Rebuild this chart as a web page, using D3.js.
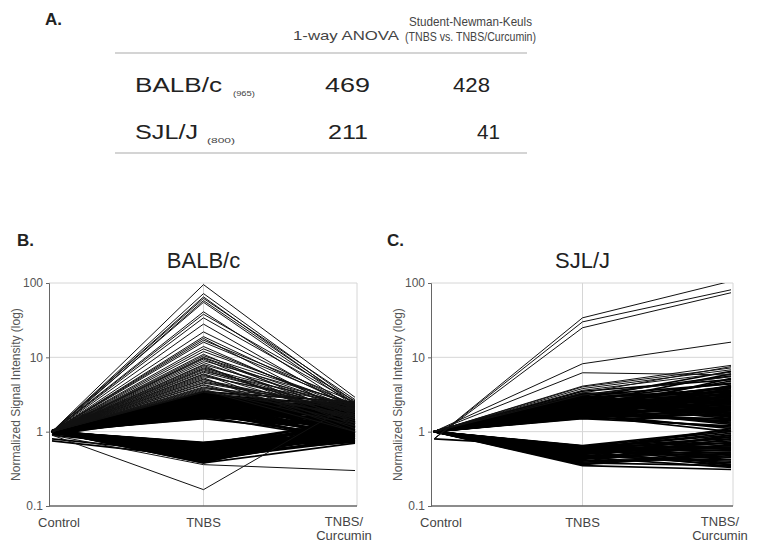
<!DOCTYPE html>
<html>
<head>
<meta charset="utf-8">
<script src="https://cdn.jsdelivr.net/npm/d3@7"></script>
<style>
  body { margin: 0; background: #fff; }
  svg { font-family: "Liberation Sans", Arial, sans-serif; }
</style>
</head>
<body>
<div id="vis"></div>
<script>
// table (panel A)
const tableCols = ['1-way ANOVA', ['Student-Newman-Keuls', '(TNBS vs. TNBS/Curcumin)']];
const strains = ['BALB/c', 'SJL/J'];
const strainN = ['(965)', '(800)'];
const anovaCounts = [469, 211];
const snkCounts = [428, 41];

// line plots: each gene = [Control, TNBS, TNBS/Curcumin]
const groups = ['Control', 'TNBS', 'TNBS/Curcumin'];
const yTicks = [0.1, 1, 10, 100];

const balbOutliers = [
  [1, 95, 2.9], [1, 72, 2.5], [1, 65, 2.3], [0.95, 58, 2.4], [1, 55, 2.2], [1, 41, 2.0],
  [1, 34, 2.4], [1, 28, 1.9], [1, 19, 2.1], [1, 18, 1.6], [1, 16, 2.3], [1, 14, 1.8],
  [1, 12, 2.2], [1, 11, 1.5], [1, 10, 2.0], [1, 9.5, 1.3], [1, 9, 2.4], [1, 8.5, 1.7],
  [1, 7.8, 1.2], [1, 7.2, 2.1], [1, 6.8, 1.6], [1, 6.3, 1.9], [1, 5.9, 1.1], [1, 5.5, 2.3],
  [1, 5.1, 1.4], [1, 4.8, 1.8], [1, 4.5, 2.0], [1, 4.2, 1.3], [1, 4.0, 1.6], [1, 3.8, 2.2],
  [1, 3.6, 1.0], [1, 3.4, 1.7], [0.9, 0.166, 2.5], [0.9, 0.36, 0.3],
  [1, 3.5, 2.0], [1, 3.7, 1.2], [1, 3.9, 2.4], [1, 4.3, 1.5], [1, 4.6, 2.2], [1, 5.0, 1.9],
  [1, 5.3, 1.0], [1, 5.7, 2.0], [1, 6.0, 1.5], [1, 6.5, 2.3], [1, 7.0, 1.8], [1, 7.5, 1.4],
  [1, 8.0, 2.2], [1, 9.8, 1.8], [1, 10.5, 2.3], [1, 13, 2.0], [1, 17, 2.5], [1, 22, 2.2],
  [1, 38, 2.6], [1, 62, 2.7]
];
const balbUp = [
  [1, 1.5, 0.9], [1, 1.55, 1.6], [0.95, 1.6, 0.75], [1, 1.65, 2.1], [1.05, 1.7, 1.2], [1, 1.75, 0.8],
  [1, 1.8, 1.9], [0.9, 1.85, 1.05], [1, 1.9, 2.3], [1, 1.95, 1.4], [1.05, 2.0, 0.72], [1, 2.05, 1.7],
  [1, 2.1, 1.0], [0.95, 2.15, 2.0], [1, 2.2, 1.3], [1, 2.25, 0.85], [1, 2.3, 2.4], [1.05, 2.35, 1.5],
  [1, 2.4, 1.1], [1, 2.45, 1.8], [0.9, 2.5, 0.78], [1, 2.55, 2.2], [1, 2.6, 1.25], [1, 2.65, 1.6],
  [1.05, 2.7, 0.95], [1, 2.75, 2.0], [1, 2.8, 1.35], [0.95, 2.85, 1.75], [1, 2.9, 1.15], [1, 2.95, 2.3],
  [1, 3.0, 0.9], [1, 3.1, 1.45], [1, 3.2, 1.9], [1, 3.3, 1.05], [1, 1.6, 1.3], [1, 1.7, 2.4],
  [1, 1.8, 1.1], [1, 1.9, 0.7], [1, 2.0, 1.55], [1, 2.1, 2.15], [1, 2.2, 0.8], [1, 2.3, 1.2],
  [1, 2.4, 1.65], [1, 2.5, 2.05], [1, 2.6, 0.88], [1, 2.7, 1.45], [1, 2.8, 1.0], [1, 2.9, 1.85],
  [1, 3.0, 2.35], [1, 1.65, 1.0], [1, 1.75, 1.75], [1, 2.25, 1.25], [1, 2.55, 0.75],
  [1, 1.52, 2.0], [1, 1.58, 1.15], [1, 1.68, 0.95], [1, 1.78, 1.5], [1, 1.88, 2.2], [1, 1.98, 0.85],
  [1, 2.08, 1.35], [1, 2.18, 1.85], [1, 2.28, 0.98], [1, 2.38, 2.25], [1, 2.48, 1.2], [1, 2.58, 1.7],
  [1, 2.68, 2.45], [1, 2.78, 1.1], [1, 2.88, 1.55], [1, 2.98, 1.95], [1, 3.15, 1.25], [1, 3.25, 2.15],
  [1, 3.35, 1.6], [1, 3.45, 2.5]
];
const balbDown = [
  [1, 0.72, 1.1], [1, 0.7, 0.8], [0.95, 0.68, 1.4], [1, 0.66, 0.95], [1, 0.64, 1.25], [1.05, 0.62, 0.75],
  [1, 0.6, 1.5], [1, 0.58, 1.0], [0.9, 0.56, 1.3], [1, 0.54, 0.85], [1, 0.52, 1.15], [1, 0.5, 0.72],
  [1, 0.49, 1.45], [0.95, 0.48, 0.9], [1, 0.47, 1.2], [1, 0.46, 1.05], [1, 0.45, 0.78], [1, 0.44, 1.35],
  [1, 0.43, 0.95], [1, 0.42, 1.1], [1, 0.41, 0.82], [1, 0.4, 1.25], [1, 0.39, 1.0], [1, 0.38, 0.7],
  [1, 0.7, 1.3], [1, 0.65, 0.72], [1, 0.61, 1.05], [1, 0.57, 1.4], [1, 0.53, 0.8], [1, 0.5, 1.0],
  [1, 0.47, 1.3], [1, 0.44, 0.88], [1, 0.41, 1.15], [0.8, 0.5, 0.9], [0.75, 0.45, 1.0], [1, 0.69, 0.9],
  [1, 0.63, 1.15], [1, 0.55, 0.92], [1, 0.51, 1.2], [1, 0.43, 0.75],
  [1, 0.71, 0.95], [1, 0.67, 1.2], [1, 0.59, 0.78], [1, 0.53, 1.35], [1, 0.48, 1.1], [1, 0.45, 0.92],
  [1, 0.42, 1.4], [1, 0.4, 0.85], [1, 0.38, 1.2], [1, 0.62, 1.0]
];

const sjlOutliers = [
  [0.8, 34, 106], [0.8, 30, 81], [0.8, 25, 74], [1, 8.2, 16], [1, 6.2, 5.8], [1, 4.1, 7.8],
  [1, 4.0, 7.2], [1, 3.8, 6.8], [1, 3.6, 6.3], [1, 3.3, 7.5], [1, 3.1, 5.5]
];
const sjlUp = [
  [1, 1.5, 1.2], [1, 1.55, 2.6], [1, 1.6, 1.7], [1, 1.65, 4.2], [1, 1.7, 1.4], [1, 1.75, 3.1],
  [1, 1.8, 2.0], [1, 1.85, 5.2], [1, 1.9, 1.6], [1, 1.95, 2.8], [1, 2.0, 3.6], [1, 2.05, 1.3],
  [1, 2.1, 2.3], [1, 2.15, 4.8], [1, 2.2, 1.9], [1, 2.25, 3.3], [1, 2.3, 1.5], [1, 2.35, 2.6],
  [1, 2.4, 6.0], [1, 2.45, 2.1], [1, 2.5, 3.9], [1, 2.55, 1.75], [1, 2.6, 2.9], [1, 2.7, 4.5],
  [1, 2.8, 2.4], [1, 2.9, 3.4], [1, 3.0, 1.8], [1, 3.1, 5.6], [1, 3.2, 2.7], [1, 1.6, 2.2],
  [1, 1.7, 3.0], [1, 1.8, 1.45], [1, 1.9, 3.8], [1, 2.0, 2.5], [1, 2.1, 1.65], [1, 2.2, 3.5],
  [1, 2.3, 2.0], [1, 2.4, 4.0], [1, 2.5, 2.2], [1, 2.6, 3.2], [1, 2.7, 1.55], [1, 2.8, 6.5],
  [1, 2.9, 2.35], [1, 1.75, 1.1], [1, 1.65, 1.0], [1, 2.0, 1.25], [1, 1.55, 1.9],
  [1, 1.52, 1.5], [1, 1.58, 3.4], [1, 1.68, 2.4], [1, 1.78, 1.35], [1, 1.88, 2.7], [1, 1.98, 1.8],
  [1, 2.08, 3.0], [1, 2.18, 2.1], [1, 2.28, 4.1], [1, 2.38, 1.7], [1, 2.48, 2.9], [1, 2.58, 3.6],
  [1, 2.68, 2.0], [1, 2.78, 3.8], [1, 2.88, 1.6], [1, 3.05, 4.4], [1, 3.3, 3.0], [1, 3.5, 5.0],
  [1, 1.62, 1.15], [1, 1.72, 2.05], [1, 1.92, 2.45], [1, 2.12, 3.2], [1, 2.32, 2.75], [1, 2.52, 1.95]
];
const sjlDown = [
  [1, 0.65, 1.05], [1, 0.63, 0.8], [1, 0.62, 0.55], [1, 0.6, 0.95], [1, 0.58, 0.65], [1, 0.57, 0.45],
  [1, 0.55, 0.85], [1, 0.54, 0.6], [1, 0.52, 0.38], [1, 0.5, 0.72], [1, 0.48, 0.5], [1, 0.46, 0.9],
  [1, 0.45, 0.33], [1, 0.43, 0.58], [1, 0.41, 0.42], [1, 0.4, 0.68], [1, 0.38, 0.35], [1, 0.37, 0.52],
  [1, 0.35, 0.31], [1, 0.64, 0.7], [1, 0.6, 0.48], [1, 0.56, 1.1], [1, 0.52, 0.62], [1, 0.47, 0.4],
  [1, 0.42, 0.8], [1, 0.39, 0.46], [0.8, 0.62, 0.36], [1, 0.59, 0.75], [1, 0.55, 0.34],
  [1, 0.64, 0.58], [1, 0.61, 0.9], [1, 0.6, 0.62], [1, 0.58, 0.42], [1, 0.56, 0.7], [1, 0.53, 0.52],
  [1, 0.5, 0.85], [1, 0.49, 0.36], [1, 0.44, 0.66], [1, 0.36, 0.5], [1, 0.63, 1.0], [1, 0.57, 0.55]
];

const svg = d3.select('#vis')
  .append('svg')
  .attr('width', 762)
  .attr('height', 544);

// text helper; len stretches the glyphs like the scanned figure
function label(g, x, y, str, size, opt = {}) {
  const t = g.append('text')
    .attr('x', x).attr('y', y)
    .attr('font-size', size)
    .attr('fill', opt.fill || '#222')
    .attr('text-anchor', opt.anchor || 'start')
    .text(str);
  if (opt.bold) t.attr('font-weight', 'bold');
  if (opt.len) t.attr('textLength', opt.len).attr('lengthAdjust', 'spacingAndGlyphs');
  return t;
}

// ---- panel A: table ----
const tbl = svg.append('g');
label(tbl, 45, 25, 'A.', 17, { bold: true });
label(tbl, 293, 40, tableCols[0], 13, { fill: '#444', len: 106 });
label(tbl, 409, 26, tableCols[1][0], 13, { fill: '#444', len: 123 });
label(tbl, 405, 41, tableCols[1][1], 13, { fill: '#444', len: 131 });
[53, 153].forEach(y => {
  tbl.append('line').attr('x1', 115).attr('x2', 527).attr('y1', y).attr('y2', y)
    .attr('stroke', '#aaa').attr('stroke-width', 1.2);
});
const rowLen = [87, 63], nX = [233, 207], nLen = [22, 28];
const anovaX = [325, 328], anovaLen = [45, 40];
const snkX = [453, 477], snkLen = [37, 23];
strains.forEach((s, i) => {
  const y = 92 + i * 47;
  label(tbl, 135, y, s, 20, { len: rowLen[i] });
  label(tbl, nX[i], y + 4, strainN[i], 8, { fill: '#444', len: nLen[i] });
  label(tbl, anovaX[i], y, anovaCounts[i], 20, { len: anovaLen[i] });
  label(tbl, snkX[i], y, snkCounts[i], 20, { len: snkLen[i] });
});

// ---- panels B and C ----
function drawPanel(opt) {
  const g = svg.append('g');
  const x = d3.scalePoint().domain(groups).range([opt.x0 + 3, opt.x1]);
  const y = d3.scaleLog().domain([0.1, 100]).range([506, 283]);
  const right = opt.x1 + 2;

  label(g, opt.lx, 246, opt.letter, 17, { bold: true });
  label(g, x('TNBS'), 268, opt.title, 22, { anchor: 'middle' });

  // grid + frame
  yTicks.slice(1).forEach(v => {
    g.append('line').attr('x1', opt.x0).attr('x2', right).attr('y1', y(v)).attr('y2', y(v))
      .attr('stroke', '#d6d6d6').attr('stroke-width', 1);
  });
  g.append('line').attr('x1', x('TNBS')).attr('x2', x('TNBS')).attr('y1', y(100)).attr('y2', y(0.1))
    .attr('stroke', '#d6d6d6');
  g.append('line').attr('x1', right).attr('x2', right).attr('y1', y(100)).attr('y2', y(0.1))
    .attr('stroke', '#d6d6d6');

  const clipId = 'clip' + opt.letter[0];
  svg.append('clipPath').attr('id', clipId).append('rect')
    .attr('x', opt.x0).attr('y', y(100)).attr('width', right - opt.x0).attr('height', y(0.1) - y(100));

  const line = d3.line().x((d, i) => x(groups[i])).y(d => y(d));
  const lg = g.append('g').attr('clip-path', `url(#${clipId})`);
  lg.selectAll('.band')
    .data(opt.bands)
    .join('path')
    .attr('class', 'band')
    .attr('d', line)
    .attr('fill', 'none')
    .attr('stroke', '#000')
    .attr('stroke-width', 1.7);
  lg.selectAll('.outlier')
    .data(opt.outliers)
    .join('path')
    .attr('class', 'outlier')
    .attr('d', line)
    .attr('fill', 'none')
    .attr('stroke', '#111')
    .attr('stroke-width', 1);

  // axes
  const yAxis = d3.axisLeft(y).tickValues(yTicks).tickFormat(d => d).tickSize(3);
  const ya = g.append('g').attr('transform', `translate(${opt.x0},0)`).call(yAxis);
  ya.select('.domain').attr('stroke', '#666');
  ya.selectAll('.tick line').attr('stroke', '#666');
  ya.selectAll('.tick text').attr('font-size', 12).attr('fill', '#555')
    .attr('font-family', '"Liberation Sans", Arial, sans-serif');
  g.append('line').attr('x1', opt.x0).attr('x2', right).attr('y1', y(0.1)).attr('y2', y(0.1))
    .attr('stroke', '#666').attr('stroke-width', 1.3);

  g.append('text')
    .attr('transform', `translate(${opt.x0 - 29},${(y(100) + y(0.1)) / 2}) rotate(-90)`)
    .attr('text-anchor', 'middle').attr('font-size', 12).attr('fill', '#555')
    .text('Normalized Signal Intensity (log)');

  // x labels
  label(g, opt.x0 + 10, 527, 'Control', 13, { fill: '#444', anchor: 'middle' });
  label(g, x('TNBS'), 527, 'TNBS', 13, { fill: '#444', anchor: 'middle' });
  ['TNBS/', 'Curcumin'].forEach((s, i) => {
    label(g, opt.x1 - 11, 526 + i * 14, s, 13, { fill: '#444', anchor: 'middle' });
  });
}

drawPanel({ letter: 'B.', title: 'BALB/c', lx: 17, x0: 49, x1: 355,
  bands: balbUp.concat(balbDown), outliers: balbOutliers });
drawPanel({ letter: 'C.', title: 'SJL/J', lx: 387, x0: 431, x1: 731,
  bands: sjlUp.concat(sjlDown), outliers: sjlOutliers });
</script>
</body>
</html>
